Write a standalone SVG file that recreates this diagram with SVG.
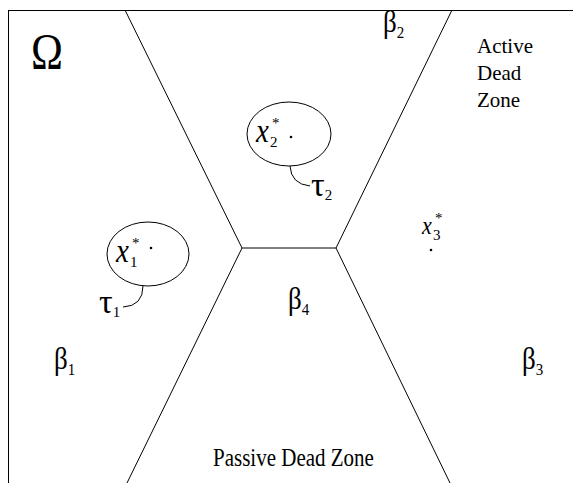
<svg xmlns="http://www.w3.org/2000/svg" width="573" height="483" viewBox="0 0 573 483">
<style>
text{font-family:"Liberation Serif","Times New Roman",serif;fill:#000}
.ln{stroke:#000;stroke-width:1;fill:none}
.lbl{font-size:21px}
.gr{font-size:27px}
.tau{font-size:34px}
.sub{font-size:15px}
.xi{font-style:italic;font-size:29px}
</style>
<rect width="573" height="483" fill="#fff"/>
<g id="connectors">
<path class="ln" d="M8,10.5 H573 M8.5,10 V483"/>
<path class="ln" d="M125,10 L242,248 H336 L452,10 M242,248 L127,483 M336,248 L450,483"/>
<path class="ln" d="M290,166 Q291,184 310,186"/>
<path class="ln" d="M143,286 Q143,306 123,307"/>
</g>
<g id="omega"><text transform="translate(31,68) scale(1,1.2)" style="font-size:43px">Ω</text></g>
<g id="beta1"><text transform="translate(54,369) scale(1,1.15)" class="gr">β<tspan class="sub" dy="5">1</tspan></text></g>
<g id="beta2"><text transform="translate(383,32) scale(1,1.15)" class="gr">β<tspan class="sub" dy="5">2</tspan></text></g>
<g id="beta3"><text transform="translate(522,369) scale(1,1.15)" class="gr">β<tspan class="sub" dy="5">3</tspan></text></g>
<g id="beta4"><text transform="translate(288,309) scale(1,1.15)" class="gr">β<tspan class="sub" dy="5">4</tspan></text></g>
<g id="active"><text class="lbl" x="477" y="53">Active</text><text class="lbl" x="477" y="80">Dead</text><text class="lbl" x="477" y="107">Zone</text></g>
<g id="passive"><text class="lbl" transform="translate(213,466) scale(1,1.2)">Passive Dead Zone</text></g>
<g id="tau2-node">
<ellipse class="ln" cx="289" cy="134" rx="42" ry="32"/>
<text class="xi" transform="translate(256,142) scale(1,1.15)">x</text>
<text class="sub" x="272" y="128">*</text>
<text class="sub" x="270" y="147">2</text>
<circle cx="291" cy="137" r="1.3"/>
</g>
<g id="tau1-node">
<ellipse class="ln" cx="148" cy="254" rx="41" ry="32"/>
<text class="xi" transform="translate(116,262) scale(1,1.15)">x</text>
<text class="sub" x="132" y="248">*</text>
<text class="sub" x="130" y="267">1</text>
<circle cx="151" cy="248" r="1.3"/>
</g>
<g id="x3">
<text class="xi" style="font-size:22px" transform="translate(422,234) scale(1,1.15)">x</text>
<text class="sub" x="435" y="223">*</text>
<text class="sub" x="433" y="240">3</text>
<circle cx="431" cy="250" r="1.3"/>
</g>
<g id="tau1"><text x="99" y="313" class="tau">τ<tspan class="sub" dy="4">1</tspan></text></g>
<g id="tau2"><text x="311" y="196" class="tau">τ<tspan class="sub" dy="4">2</tspan></text></g>
</svg>
